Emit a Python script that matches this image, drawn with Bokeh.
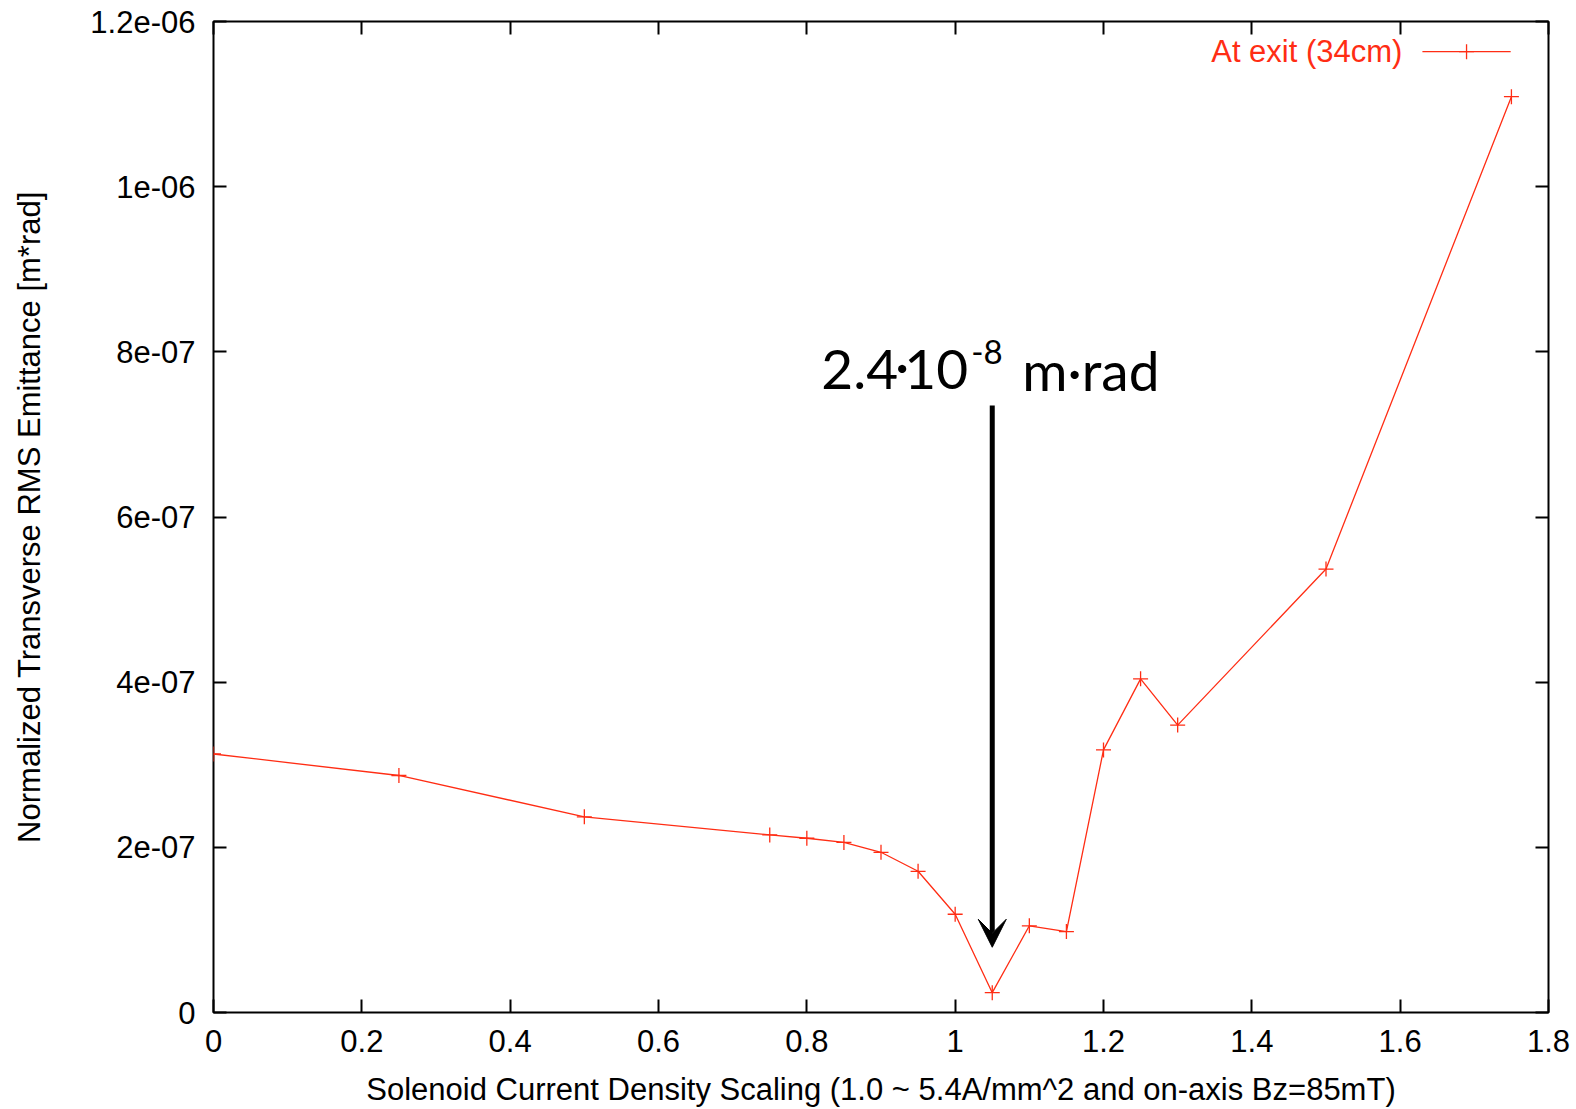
from bokeh.plotting import figure
from bokeh.models import (LinearAxis, FixedTicker, Label, Arrow, VeeHead,
                          Range1d)
from bokeh.embed import file_html
from bokeh.resources import INLINE

# Emittance at the exit (34 cm) versus solenoid current-density scaling
scaling = [0.0, 0.25, 0.5, 0.75, 0.8, 0.85, 0.9, 0.95, 1.0, 1.05,
           1.1, 1.15, 1.2, 1.25, 1.3, 1.5, 1.75]
emittance = [3.13e-7, 2.87e-7, 2.37e-7, 2.15e-7, 2.11e-7, 2.06e-7, 1.94e-7,
             1.71e-7, 1.19e-7, 2.4e-8, 1.05e-7, 0.98e-7, 3.18e-7, 4.04e-7,
             3.48e-7, 5.37e-7, 1.109e-6]

x_ticks = [0, 0.2, 0.4, 0.6, 0.8, 1.0, 1.2, 1.4, 1.6, 1.8]
x_tick_labels = ["0", "0.2", "0.4", "0.6", "0.8", "1", "1.2", "1.4", "1.6", "1.8"]
y_ticks = [0, 2e-7, 4e-7, 6e-7, 8e-7, 1e-6, 1.2e-6]
y_tick_labels = ["0", "2e-07", "4e-07", "6e-07", "8e-07", "1e-06", "1.2e-06"]

series_name = "At exit (34cm)"
RED = "#ff2d14"
FONT = "Liberation Sans"
FS = "31px"

p = figure(width=1576, height=1109, output_backend="svg", toolbar_location=None,
           x_range=Range1d(0, 1.8), y_range=Range1d(0, 1.2e-6),
           min_border_left=213, min_border_right=28, min_border_top=21,
           min_border_bottom=97, x_axis_type=None, y_axis_type=None)
p.grid.visible = False
p.outline_line_color = "black"
p.outline_line_width = 2
p.background_fill_color = "white"
p.border_fill_color = "white"


def styled_axis(axis, ticks, labels, show_labels):
    axis.ticker = FixedTicker(ticks=ticks)
    axis.major_label_overrides = {t: l for t, l in zip(ticks, labels)}
    axis.minor_tick_line_color = None
    axis.major_tick_in = 13
    axis.major_tick_out = 0
    axis.major_tick_line_width = 2
    axis.major_tick_line_color = "black"
    axis.axis_line_color = None
    axis.major_label_text_font = FONT
    axis.major_label_text_font_size = FS
    axis.major_label_text_color = "black"
    axis.axis_label_text_font = FONT
    axis.axis_label_text_font_size = FS
    axis.axis_label_text_font_style = "normal"
    axis.axis_label_text_color = "black"
    if not show_labels:
        axis.major_label_text_font_size = "0px"
        axis.major_label_text_alpha = 0
    return axis


xb = styled_axis(LinearAxis(), x_ticks, x_tick_labels, True)
xb.major_label_standoff = 17
xb.axis_label = "Solenoid Current Density Scaling (1.0 ~ 5.4A/mm^2 and on-axis Bz=85mT)"
xb.axis_label_standoff = 17
p.add_layout(xb, "below")

yl = styled_axis(LinearAxis(), y_ticks, y_tick_labels, True)
yl.major_label_standoff = 18
yl.axis_label = "Normalized Transverse RMS Emittance [m*rad]"
yl.axis_label_standoff = 40
p.add_layout(yl, "left")

xt = styled_axis(LinearAxis(), x_ticks, x_tick_labels, False)
p.add_layout(xt, "above")
yr = styled_axis(LinearAxis(), y_ticks, y_tick_labels, False)
p.add_layout(yr, "right")

# data series
p.line(scaling, emittance, line_color=RED, line_width=1.3)
p.scatter(scaling, emittance, marker="cross", size=15, line_color=RED,
          line_width=1.3)

# key, drawn gnuplot-style: text first, then the sample line
key_x0, key_x1, key_y = 1.630, 1.749, 1.1635e-6
p.line([key_x0, key_x1], [key_y, key_y], line_color=RED, line_width=1.3)
p.scatter([(key_x0 + key_x1) / 2], [key_y], marker="cross", size=15,
          line_color=RED, line_width=1.3)
p.add_layout(Label(x=key_x0, y=key_y, x_offset=-20, text=series_name,
                   text_align="right", text_baseline="middle",
                   text_font=FONT, text_font_size=FS, text_color=RED))

# minimum annotation
i_min = emittance.index(min(emittance))
x_min = scaling[i_min]
p.add_layout(Arrow(x_start=x_min, y_start=7.35e-7, x_end=x_min, y_end=0.79e-7,
                   line_width=5, line_color="black",
                   end=VeeHead(size=28, fill_color="black", line_color="black",
                               line_width=1)))

ann_font = "Lato"
ann_y = 7.54e-7


def ann(text, dx, dy, size, align="left"):
    p.add_layout(Label(x=x_min, y=ann_y, x_offset=dx, y_offset=dy, text=text,
                       text_align=align, text_baseline="alphabetic",
                       text_font=ann_font, text_font_size=size,
                       text_color="black"))


ann("2.4", -171, 20, "55px")
ann("·", -90, 26, "55px", align="center")
ann("10", -88, 20, "55px")
ann("-8", -21, 38, "33px")
ann("m·rad", 30, 20, "55px")

open("out.html", "w").write(file_html(p, INLINE))
